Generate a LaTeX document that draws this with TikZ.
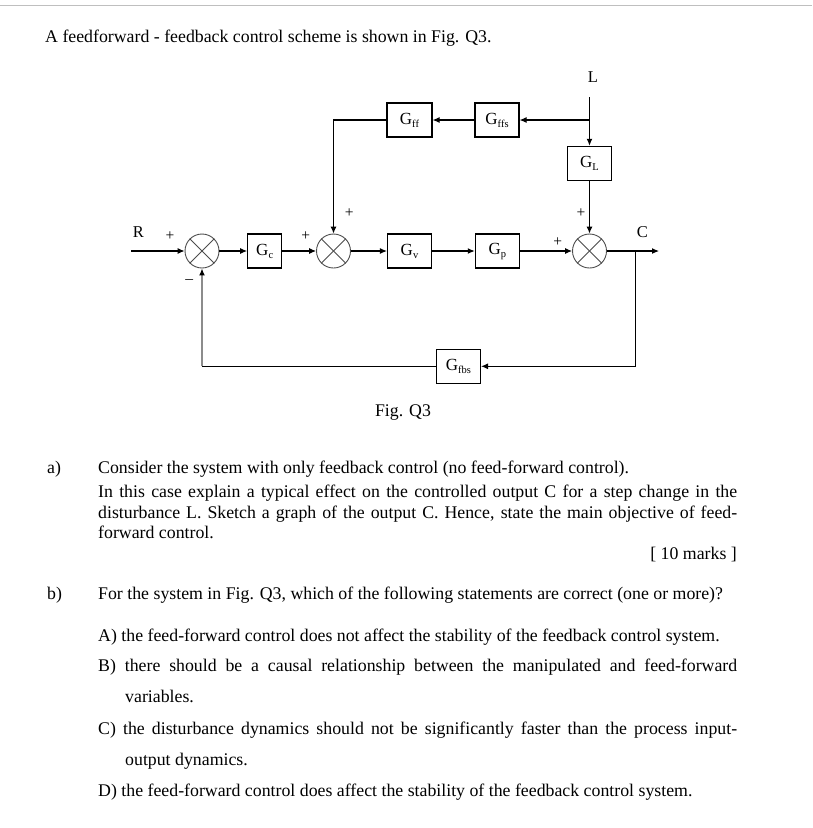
\documentclass[tikz,border=0pt]{standalone}
\usepackage{fontspec}
\setmainfont{Liberation Serif}
\usetikzlibrary{arrows.meta}
\newcommand\Gsub[1]{G\raisebox{-3pt}{\fontsize{10.5}{10.5}\selectfont #1}}
\begin{document}
\begin{tikzpicture}[x=1pt,y=-1pt,
  blk/.style={draw, line width=1.1pt, minimum width=44pt, minimum height=34pt, inner sep=0pt, font=\fontsize{17}{17}\selectfont},
  sumj/.style={circle, draw=black!70, line width=0.9pt, minimum size=34pt, inner sep=0pt},
  crs/.style={draw=black!70, line width=0.8pt},
  sig/.style={line width=1.1pt, -{Latex[length=7pt,width=6pt]}},
  fb/.style={line width=1.3pt, draw=black!45, -{Latex[length=7pt,width=6pt,color=black]}},
  lbl/.style={font=\fontsize{16.5}{16.5}\selectfont, inner sep=0pt},
  sgn/.style={font=\fontsize{15.5}{15.5}\selectfont, inner sep=0pt},
  txt/.style={font=\fontsize{17.8}{20.5}\selectfont, inner sep=0pt, anchor=base west},
]
\useasboundingbox (0,0) rectangle (812,828);
\fill[white] (0,0) rectangle (812,828);
\draw[black!25, line width=1pt] (0,5.5) -- (812,5.5);

% title
\node[txt] (title) at (45,42) {A feedforward - feedback control scheme is shown in Fig. Q3.};

% blocks
\node[blk, minimum width=45pt] (gff) at (409.5,120) {\Gsub{ff}};
\node[blk] (gffs) at (497,120) {\Gsub{ffs}};
\node[blk] (gl) at (589.5,163.3) {\Gsub{L}};
\node[blk, minimum width=34pt] (gc) at (264.7,251) {\Gsub{c}};
\node[blk] (gv) at (409.5,251) {\Gsub{v}};
\node[blk] (gp) at (497.3,251) {\Gsub{p}};
\node[blk] (gfbs) at (458.5,366.3) {\Gsub{fbs}};

% summing junctions
\node[sumj] (s1) at (202,251) {};
\node[sumj] (s2) at (333.5,251) {};
\node[sumj] (s3) at (589.5,251) {};
\foreach \s in {s1,s2,s3}{
  \draw[crs] (\s.north west) -- (\s.south east);
  \draw[crs] (\s.north east) -- (\s.south west);
}

% coordinates
\coordinate (Ltop) at (589.5,97);
\coordinate (Lbr) at (589.5,120);
\coordinate (Rin) at (131,251);
\coordinate (Cout) at (659,251);
\coordinate (Cbr) at (635.5,251);

% labels
\node[lbl] (lL) at (593,76.7) {L};
\node[lbl] (lR) at (138.3,232.3) {R};
\node[lbl] (lC) at (642.3,231.7) {C};
\node[sgn] (p1) at (170,236) {+};
\node[sgn] (m1) at (189.3,281) {--};
\node[sgn] (p2) at (305.7,236) {+};
\node[sgn] (p3) at (349.3,212.7) {+};
\node[sgn] (p4) at (557.7,241.7) {+};
\node[sgn] (p5) at (581,212.7) {+};

% connectors
\draw[sig] (Ltop) -- (gl.north);
\draw[sig] (Lbr) -- (gffs.east);
\draw[sig] (gffs.west) -- (gff.east);
\draw[sig] (gff.west) -| (s2.north);
\draw[sig] (Rin) -- (s1.west);
\draw[sig] (s1.east) -- (gc.west);
\draw[sig] (gc.east) -- (s2.west);
\draw[sig] (s2.east) -- (gv.west);
\draw[sig] (gv.east) -- (gp.west);
\draw[sig] (gp.east) -- (s3.west);
\draw[sig] (gl.south) -- (s3.north);
\draw[sig] (s3.east) -- (Cout);
\draw[sig] (Cbr) |- (gfbs.east);
\draw[line width=1.1pt] (gfbs.west) -- (gfbs.west -| s1.south);
\draw[fb] (gfbs.west -| s1.south) -- (s1.south);

\node[font=\fontsize{17.8}{20}\selectfont, inner sep=0pt] (fig) at (403,413) {Fig. Q3};

% question a
\node[txt] (qa) at (47,473) {a)};
\node[txt] (a1) at (98,473) {Consider the system with only feedback control (no feed-forward control).};
\node[txt] (a2) at (98,497) {\makebox[639pt][s]{In this case explain a typical effect on the controlled output C for a step change in the}};
\node[txt] (a3) at (98,518) {\makebox[639pt][s]{disturbance L. Sketch a graph of the output C. Hence, state the main objective of feed-}};
\node[txt] (a4) at (98,538) {forward control.};
\node[txt, anchor=base east] (mk) at (737,559) {[ 10 marks ]};

% question b
\node[txt] (qb) at (47,599) {b)};
\node[txt] (b0) at (98,599) {For the system in Fig. Q3, which of the following statements are correct (one or more)?};
\node[txt] (bA) at (98,641) {A) the feed-forward control does not affect the stability of the feedback control system.};
\node[txt] (bB) at (98,671) {\makebox[639pt][s]{B) there should be a causal relationship between the manipulated and feed-forward}};
\node[txt] (bB2) at (125,702) {variables.};
\node[txt] (bC) at (98,734) {\makebox[639pt][s]{C) the disturbance dynamics should not be significantly faster than the process input-}};
\node[txt] (bC2) at (125,765) {output dynamics.};
\node[txt] (bD) at (98,796) {D) the feed-forward control does affect the stability of the feedback control system.};
\end{tikzpicture}
\end{document}
